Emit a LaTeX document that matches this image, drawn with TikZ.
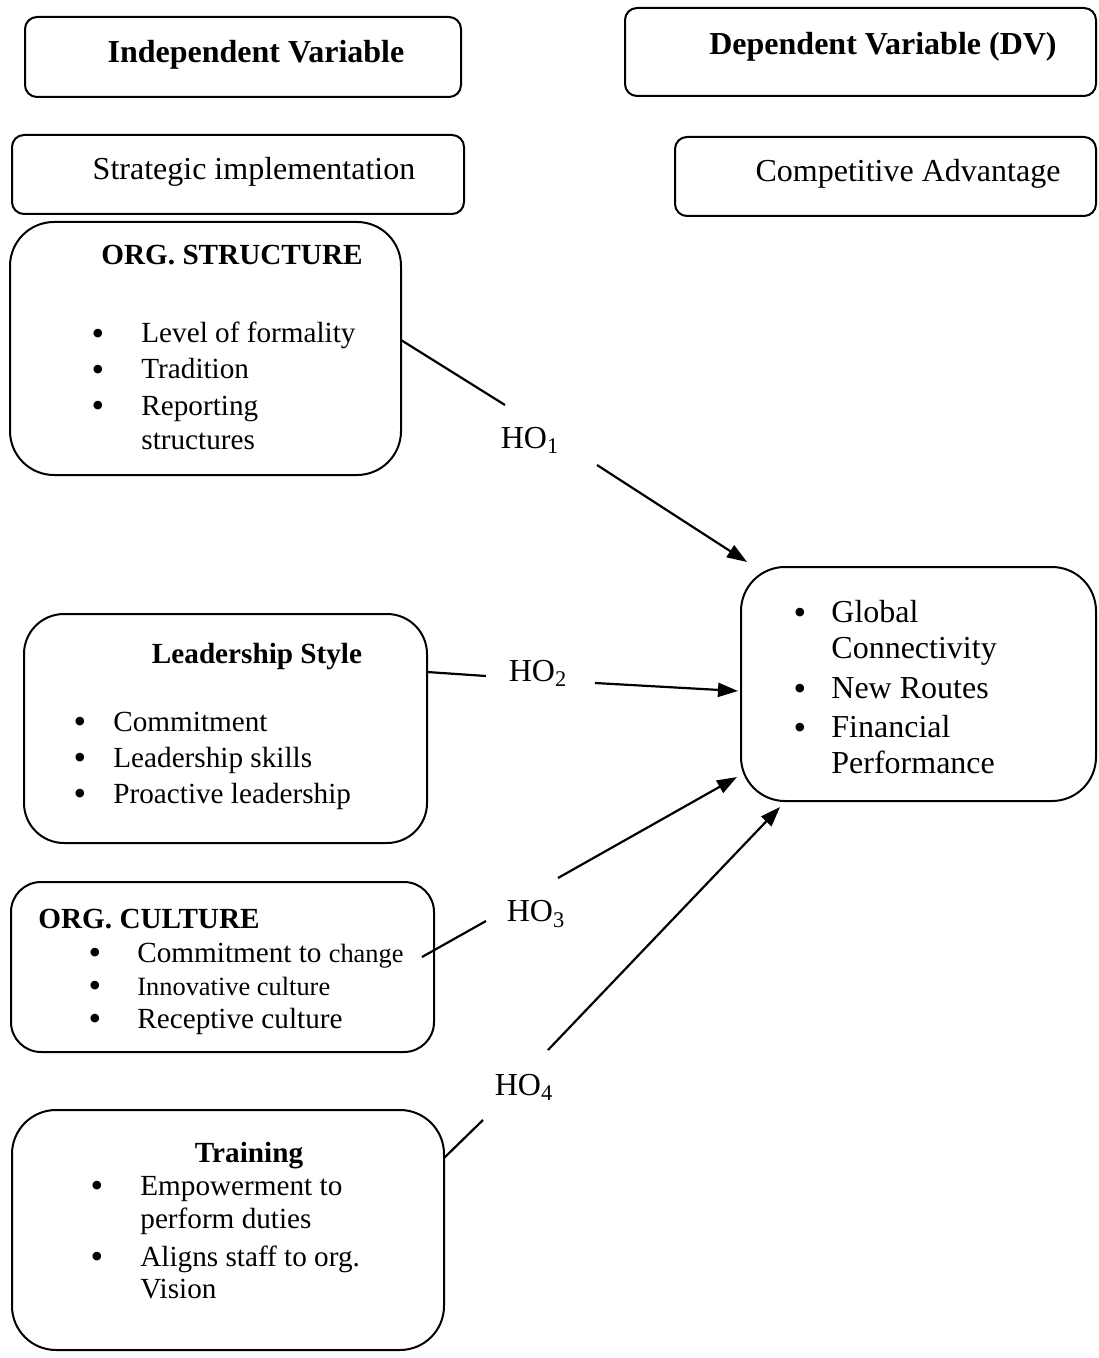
\documentclass[tikz,border=0pt]{standalone}
\usepackage{fontspec}
\setmainfont{Liberation Serif}
\usetikzlibrary{fit,arrows.meta}
\begin{document}
\begin{tikzpicture}[x=0.5pt,y=-0.5pt,
  box/.style={draw, line width=1pt, inner sep=0pt},
  txt/.style={font=\fontsize{16}{18}\selectfont, inner sep=0pt, anchor=base west},
  item/.style={font=\fontsize{14.6}{17}\selectfont, inner sep=0pt, anchor=base west},
  ctr/.style={font=\fontsize{16}{18}\selectfont, inner sep=0pt, anchor=base},
  head/.style={font=\fontsize{16}{18}\selectfont\bfseries, inner sep=0pt, anchor=base},
  title/.style={font=\fontsize{14.6}{17}\selectfont\bfseries, inner sep=0pt, anchor=base},
  bul/.style={font=\fontsize{18}{18}\selectfont, inner sep=0pt, anchor=base,
    text height=6pt, text depth=0pt, yshift=-1.4pt},
  small/.style={font=\fontsize{13.2}{15}\selectfont, inner sep=0pt, anchor=base west},
  hyp/.style={font=\fontsize{16}{18}\selectfont, inner sep=0pt},
  ln/.style={line width=1.1pt},
  arr/.style={line width=1.1pt, -{Triangle[length=10pt,width=7pt]}}
]
\useasboundingbox (0,0) rectangle (1098,1358);

% header boxes
\node[box, rounded corners=6pt, fit={(25,17) (461,97)}] (iv) {};
\node[head] (ivt) at (256,63) {Independent Variable};
\node[box, rounded corners=6pt, fit={(625,8) (1096,96)}] (dv) {};
\node[head] (dvt) at (883,55) {Dependent Variable (DV)};
\node[box, rounded corners=6pt, fit={(12,135) (464,214)}] (si) {};
\node[ctr] (sit) at (254,180) {Strategic implementation};
\node[box, rounded corners=6pt, fit={(675,137) (1096,216)}] (ca) {};
\node[ctr] (cat) at (908,182) {Competitive Advantage};

% organisational structure
\node[box, rounded corners=22pt, fit={(10,222) (401,475)}] (os) {};
\node[title] at (232,265) {ORG. STRUCTURE};
\node[bul] at (98,343) {\textbullet};
\node[item] at (141,343) {Level of formality};
\node[bul] at (98,379) {\textbullet};
\node[item] at (141,379) {Tradition};
\node[bul] at (98,415) {\textbullet};
\node[item] at (141,415) {Reporting};
\node[item] at (141,449) {structures};

% leadership style
\node[box, rounded corners=20pt, fit={(24,614) (427,843)}] (ls) {};
\node[title] at (257,663) {Leadership Style};
\node[bul] at (80,731) {\textbullet};
\node[item] at (113,731) {Commitment};
\node[bul] at (80,767) {\textbullet};
\node[item] at (113,767) {Leadership skills};
\node[bul] at (80,803) {\textbullet};
\node[item] at (113,803) {Proactive leadership};

% organisational culture
\node[box, rounded corners=15pt, fit={(11,882) (434,1052)}] (oc) {};
\node[title, anchor=base west] at (38,928) {ORG. CULTURE};
\node[bul] at (95,962) {\textbullet};
\node[item] at (137,962) {Commitment to {\fontsize{13.2}{15}\selectfont change}};
\node[bul] at (95,995) {\textbullet};
\node[small] at (137,995) {Innovative culture};
\node[bul] at (95,1028) {\textbullet};
\node[item] at (137,1028) {Receptive culture};

% training
\node[box, rounded corners=22pt, fit={(12,1110) (444,1350)}] (tr) {};
\node[title] at (249,1162) {Training};
\node[bul] at (97,1195) {\textbullet};
\node[item] at (140,1195) {Empowerment to};
\node[item] at (140,1228) {perform duties};
\node[bul] at (97,1266) {\textbullet};
\node[item] at (140,1266) {Aligns staff to org.};
\node[item] at (140,1298) {Vision};

% competitive advantage indicators
\node[box, rounded corners=22pt, fit={(741,567) (1096,801)}] (cv) {};
\node[bul] at (800,622) {\textbullet};
\node[txt] at (831,622) {Global};
\node[txt] at (831,658) {Connectivity};
\node[bul] at (800,698) {\textbullet};
\node[txt] at (831,698) {New Routes};
\node[bul] at (800,737) {\textbullet};
\node[txt] at (831,737) {Financial};
\node[txt] at (831,773) {Performance};

% hypotheses
\node[hyp] (h1) at (530,440) {HO\textsubscript{1}};
\node[hyp] (h2) at (538,673) {HO\textsubscript{2}};
\node[hyp] (h3) at (536,914) {HO\textsubscript{3}};
\node[hyp] (h4) at (524,1087) {HO\textsubscript{4}};

% connector end points
\coordinate (a1) at (401,340);  \coordinate (b1) at (505,405);
\coordinate (c1) at (597,465);  \coordinate (d1) at (747,562);
\coordinate (a2) at (427,672);  \coordinate (b2) at (486,676);
\coordinate (c2) at (595,683);  \coordinate (d2) at (738,691);
\coordinate (a3) at (422,957);  \coordinate (b3) at (486,921);
\coordinate (c3) at (558,878);  \coordinate (d3) at (737,777);
\coordinate (a4) at (444,1158); \coordinate (b4) at (483,1120);
\coordinate (c4) at (548,1050); \coordinate (d4) at (780,807);

\draw[ln] (a1) -- (b1);  \draw[arr] (c1) -- (d1);
\draw[ln] (a2) -- (b2);  \draw[arr] (c2) -- (d2);
\draw[ln] (a3) -- (b3);  \draw[arr] (c3) -- (d3);
\draw[ln] (a4) -- (b4);  \draw[arr] (c4) -- (d4);
\end{tikzpicture}
\end{document}
